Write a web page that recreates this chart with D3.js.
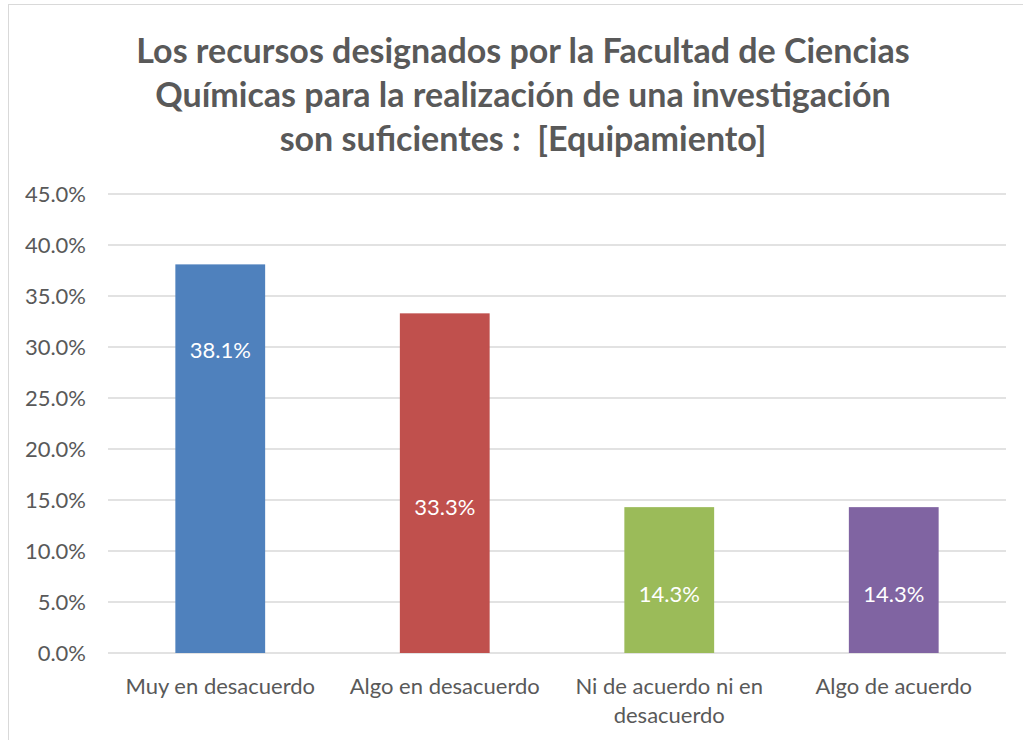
<!DOCTYPE html>
<html>
<head>
<meta charset="utf-8">
<script src="https://cdn.jsdelivr.net/npm/d3@7"></script>
<style>
  body { margin: 0; background: #fff; }
  svg { display: block; }
</style>
</head>
<body>
<div id="chart"></div>
<script>
// Chart data
var categories = ["Muy en desacuerdo", "Algo en desacuerdo", "Ni de acuerdo ni en desacuerdo", "Algo de acuerdo"];
var values = [38.1, 33.3, 14.3, 14.3];
var labelAt = [29.7, 14.3, 5.8, 5.8]; // where Excel left each data label (in % units)
var colors = ["#4f81bd", "#c0504d", "#9bbb59", "#8064a2"];
var yTicks = [0, 5, 10, 15, 20, 25, 30, 35, 40, 45];
var titleLines = [
  "Los recursos designados por la Facultad de Ciencias",
  "Químicas para la realización de una investigación",
  "son suficientes :  [Equipamiento]"
];

var svgWidth = 1023;
var svgHeight = 740;

var margin = { top: 194, right: 17, bottom: 87, left: 108 };
var width = svgWidth - margin.left - margin.right;
var height = svgHeight - margin.top - margin.bottom;

var svg = d3.select("#chart")
  .append("svg")
  .attr("width", svgWidth)
  .attr("height", svgHeight)
  .style("font-family", "Lato, 'Open Sans', sans-serif");

// outer chart border
svg.append("rect")
  .attr("x", 8.5)
  .attr("y", 4.5)
  .attr("width", svgWidth + 10)
  .attr("height", svgHeight + 10)
  .attr("fill", "none")
  .attr("stroke", "#d9d9d9")
  .attr("stroke-width", 1);

// title
svg.append("text")
  .attr("text-anchor", "middle")
  .attr("fill", "#595959")
  .attr("font-size", "34px")
  .attr("font-weight", "bold")
  .style("white-space", "pre")
  .selectAll("tspan")
  .data(titleLines)
  .enter()
  .append("tspan")
  .attr("x", 523)
  .attr("y", (d, i) => 63 + i * 44)
  .text(d => d);

var chartGroup = svg.append("g")
  .attr("transform", `translate(${margin.left}, ${margin.top})`);

var xScale = d3.scaleBand()
  .domain(categories)
  .range([0, width])
  .paddingInner(0.6)
  .paddingOuter(0.3);

var yScale = d3.scaleLinear()
  .domain([0, 45])
  .range([height, 0]);

// gridlines
chartGroup.append("g")
  .selectAll("line")
  .data(yTicks)
  .enter()
  .append("line")
  .attr("x1", 0)
  .attr("x2", width)
  .attr("y1", d => yScale(d))
  .attr("y2", d => yScale(d))
  .attr("stroke", "#d9d9d9")
  .attr("stroke-width", 1.5);

// y axis labels
var leftAxis = d3.axisLeft(yScale)
  .tickValues(yTicks)
  .tickFormat(d => d.toFixed(1) + "%")
  .tickSize(0)
  .tickPadding(22);

var yAxis = chartGroup.append("g").call(leftAxis);
yAxis.select(".domain").remove();
yAxis.selectAll("text")
  .attr("fill", "#595959")
  .attr("font-size", "22px")
  .attr("font-family", "Lato, 'Open Sans', sans-serif");

// bars
chartGroup.selectAll("rect.bar")
  .data(values)
  .enter()
  .append("rect")
  .attr("class", "bar")
  .attr("x", (d, i) => xScale(categories[i]))
  .attr("y", d => yScale(d))
  .attr("width", xScale.bandwidth())
  .attr("height", d => height - yScale(d))
  .attr("fill", (d, i) => colors[i]);

// data labels
chartGroup.selectAll("text.val")
  .data(values)
  .enter()
  .append("text")
  .attr("class", "val")
  .attr("x", (d, i) => xScale(categories[i]) + xScale.bandwidth() / 2)
  .attr("y", (d, i) => yScale(labelAt[i]))
  .attr("dy", "0.35em")
  .attr("text-anchor", "middle")
  .attr("fill", "#ffffff")
  .attr("font-size", "22px")
  .text(d => d.toFixed(1) + "%");

// category labels, wrapped like Excel does
var wrapped = {
  "Ni de acuerdo ni en desacuerdo": ["Ni de acuerdo ni en", "desacuerdo"]
};

var catLabels = chartGroup.selectAll("text.cat")
  .data(categories)
  .enter()
  .append("text")
  .attr("class", "cat")
  .attr("text-anchor", "middle")
  .attr("fill", "#595959")
  .attr("font-size", "22px");

catLabels.selectAll("tspan")
  .data(d => wrapped[d] || [d])
  .enter()
  .append("tspan")
  .attr("x", function() {
    var cat = d3.select(this.parentNode).datum();
    return xScale(cat) + xScale.bandwidth() / 2;
  })
  .attr("y", (d, i) => height + 41 + i * 29)
  .text(d => d);
</script>
</body>
</html>
